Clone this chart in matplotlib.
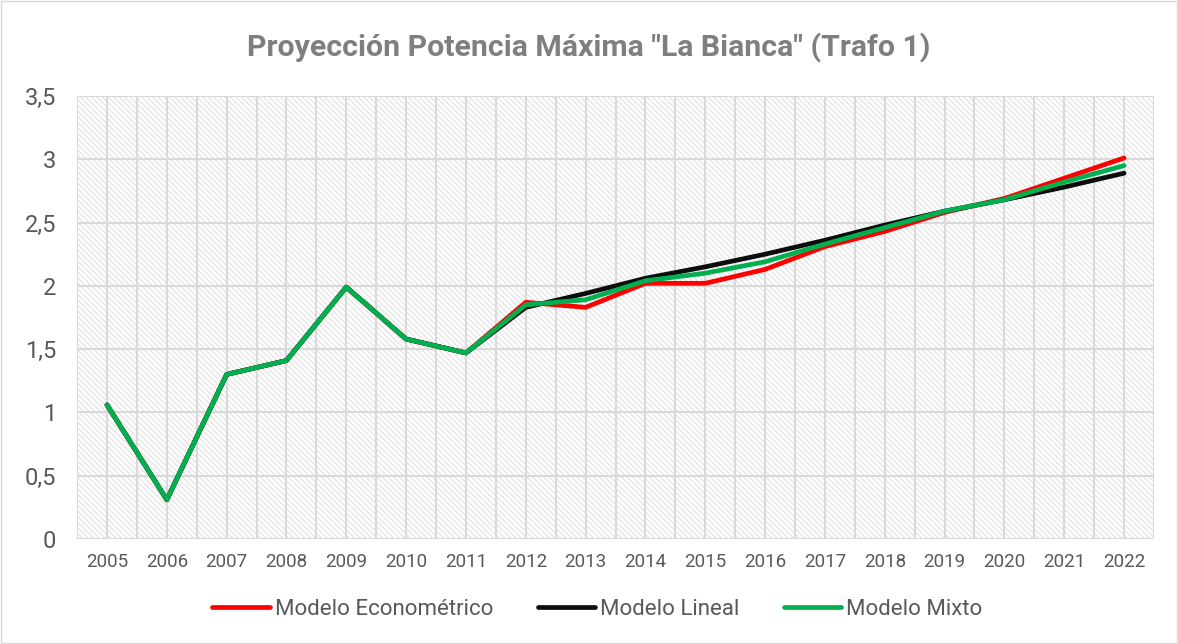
import numpy as np
import matplotlib
matplotlib.use('Agg')
import matplotlib.pyplot as plt
from matplotlib.patches import Rectangle
from matplotlib.ticker import FuncFormatter, MultipleLocator

# Data
years = ['2005', '2006', '2007', '2008', '2009', '2010', '2011', '2012', '2013',
         '2014', '2015', '2016', '2017', '2018', '2019', '2020', '2021', '2022']
econometrico = [1.06, 0.31, 1.30, 1.41, 1.99, 1.58, 1.47, 1.87, 1.83,
                2.02, 2.02, 2.13, 2.31, 2.43, 2.58, 2.69, 2.85, 3.01]
lineal = [1.06, 0.31, 1.30, 1.41, 1.99, 1.58, 1.47, 1.83, 1.94,
          2.06, 2.15, 2.25, 2.36, 2.48, 2.59, 2.68, 2.78, 2.89]
mixto = [1.06, 0.31, 1.30, 1.41, 1.99, 1.58, 1.47, 1.85, 1.89,
         2.04, 2.10, 2.19, 2.33, 2.46, 2.59, 2.68, 2.82, 2.95]

series_names = ['Modelo Econométrico', 'Modelo Lineal', 'Modelo Mixto']
series_colors = ['#ff0000', '#0d0d0d', '#00b050']

plt.rcParams['font.family'] = ['Roboto', 'DejaVu Sans']
plt.rcParams['hatch.linewidth'] = 0.9
plt.rcParams['hatch.color'] = '#e4e4e4'

fig = plt.figure(figsize=(11.78, 6.44), dpi=100)
ax = fig.add_axes([0.0654, 0.163, 0.9142, 0.688])

# hatched plot-area background
ax.add_patch(Rectangle((0, 0), 1, 1, transform=ax.transAxes, facecolor='white',
                       edgecolor='#e4e4e4', hatch='\\\\\\\\\\\\', lw=0, zorder=0))

x = np.arange(len(years))
for vals, name, col in zip([econometrico, lineal, mixto], series_names, series_colors):
    ax.plot(x, vals, color=col, lw=3.4, label=name, solid_capstyle='round', zorder=3)

ax.set_xlim(-0.5, len(years) - 0.5)
ax.set_ylim(0, 3.5)
ax.set_xticks(x)
ax.set_xticklabels(years)
ax.xaxis.set_minor_locator(MultipleLocator(0.5))
ax.yaxis.set_major_locator(MultipleLocator(0.5))
ax.yaxis.set_major_formatter(FuncFormatter(lambda v, p: f'{v:g}'.replace('.', ',')))
ax.grid(True, which='both', axis='x', color='#d9d9d9', lw=1.5, zorder=1)
ax.grid(True, which='major', axis='y', color='#d9d9d9', lw=1.5, zorder=1)
ax.set_axisbelow(True)
ax.tick_params(axis='both', which='both', length=0)
ax.tick_params(axis='x', labelsize=13.5, labelcolor='#595959', pad=10)
ax.tick_params(axis='y', labelsize=17, labelcolor='#595959', pad=15)
for s in ax.spines.values():
    s.set_visible(False)

fig.text(0.5, 0.925, 'Proyección Potencia Máxima "La Bianca" (Trafo 1)', ha='center',
         va='center', fontsize=21.8, fontweight='bold', color='#7f7f7f')

fig.legend(loc='center', bbox_to_anchor=(0.507, 0.054), ncol=3, frameon=False,
           fontsize=16, labelcolor='#595959', handlelength=2.6, handletextpad=0.2,
           columnspacing=2.0)

# thin chart border
fig.patches.append(Rectangle((0.001, 0.002), 0.998, 0.996, transform=fig.transFigure,
                             fill=False, edgecolor='#d9d9d9', lw=1))

fig.savefig('out.png', dpi=100)
